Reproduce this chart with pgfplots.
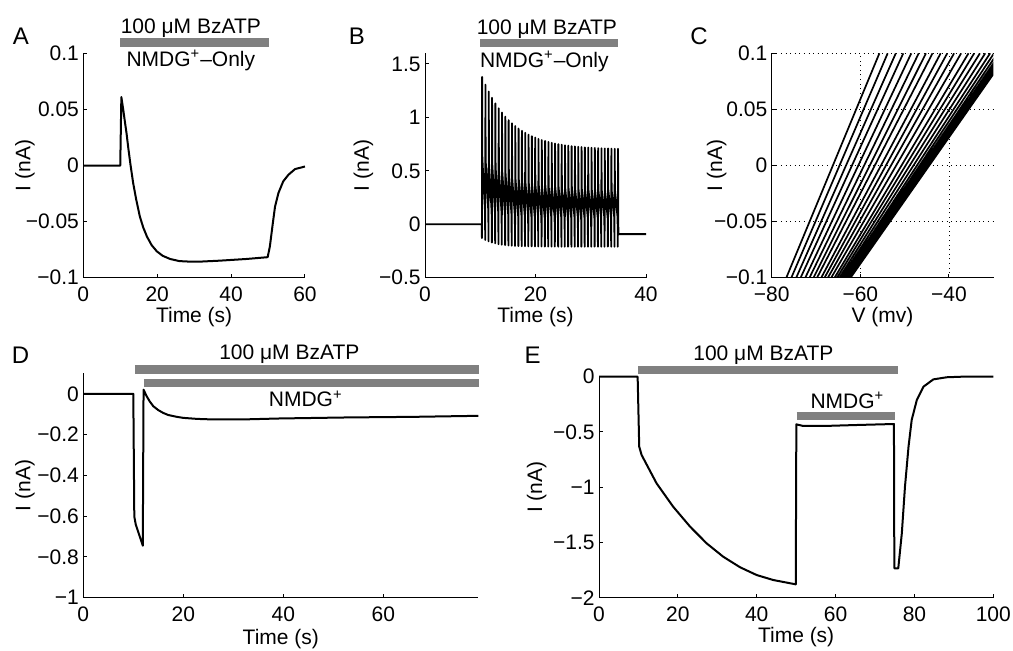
\documentclass[border=0pt]{standalone}
\usepackage{fontspec}
\setmainfont{Liberation Sans}
\usepackage{pgfplots}
\pgfplotsset{compat=1.18}
\newcommand\fs{\fontsize{10.5}{12.6}\selectfont}
\newcommand\fl{\fontsize{12}{14}\selectfont}
\definecolor{bargray}{gray}{0.5}
\pgfplotsset{
  mat/.style={
    scale only axis, anchor=north west,
    axis x line*=bottom, axis y line*=left,
    tick align=inside, major tick length=2pt,
    axis line style={line width=0.5pt},
    every tick/.style={black, line width=0.5pt},
    /pgf/number format/assume math mode=true,
    tick label style={font=\fs},
    label style={font=\fs},
    xticklabel style={anchor=base, inner sep=0pt, yshift=-12pt},
    yticklabel style={anchor=east, inner sep=0pt, xshift=-2pt},
    xlabel style={at={([yshift=-22.5pt]axis description cs:0.5,0)}, anchor=base, inner sep=0pt},
    ylabel style={anchor=center, inner sep=0pt},
    clip=false,
  },
  trace/.style={black, line width=1pt, line join=round},
}
\tikzset{bar/.style={bargray, line width=4.2pt}, txt/.style={font=\fs, anchor=base, inner sep=0pt}}
\begin{document}
\begin{tikzpicture}
\useasboundingbox (0,0) rectangle (506.5pt,-325pt);

% ---------- A
\begin{axis}[mat, at={(41.65pt,-26.65pt)}, width=110.85pt, height=112.2pt,
  xmin=0, xmax=60, ymin=-0.1, ymax=0.1,
  xtick={0,20,40,60},
  ytick={-0.1,-0.05,0,0.05,0.1}, yticklabels={−0.1,−0.05,0,0.05,0.1},
  xlabel={Time (s)}, ylabel={I (nA)},
  ylabel style={at={([xshift=-29.2pt]axis description cs:0,0.5)}}]
\addplot[trace] coordinates {
 (0,0) (10.0,0) (10.3,0.061) (10.8,0.05) (11.3,0.038) (11.7,0.0288) (12.2,0.015) (12.8,0.0)
 (13.5,-0.0157) (14.3,-0.03) (15.3,-0.0454) (16.2,-0.055) (17.2,-0.0632) (18.5,-0.071)
 (19.9,-0.0765) (21.5,-0.0805) (23.5,-0.0833) (26,-0.0852) (29,-0.0857) (32,-0.0856)
 (37,-0.0848) (44.2,-0.0833) (49.9,-0.0817) (50.5,-0.072) (51.3,-0.0513) (51.9,-0.0365)
 (52.8,-0.0246) (54.1,-0.0142) (55.5,-0.0083) (57.3,-0.0032) (60,-0.0009)};
\draw[bar] (axis cs:10,0.1096) -- (axis cs:50.3,0.1096);
\node[txt] at (axis cs:29.1,0.1178) {100 μM BzATP};
\node[txt] at (axis cs:29.1,0.0881) {NMDG\textsuperscript{+}–Only};
\end{axis}

% ---------- B
\begin{axis}[mat, at={(212.5pt,-26.65pt)}, width=110.5pt, height=112.2pt,
  xmin=0, xmax=40, ymin=-0.5, ymax=1.6,
  xtick={0,20,40},
  ytick={-0.5,0,0.5,1,1.5}, yticklabels={−0.5,0,0.5,1,1.5},
  xlabel={Time (s)}, ylabel={I (nA)},
  ylabel style={at={([xshift=-30.8pt]axis description cs:0,0.5)}}]
\addplot[black, line width=0.9pt, line join=round] coordinates {
 (0,0) (10.26,0)
 (10.3,-0.13) (10.34,1.38) (10.38,0.62) (10.86,0.12)
 (10.9,-0.147) (10.94,1.307) (10.98,0.6) (11.46,0.12)
 (11.5,-0.16) (11.54,1.242) (11.58,0.58) (12.06,0.115)
 (12.1,-0.171) (12.14,1.184) (12.18,0.56) (12.66,0.11)
 (12.7,-0.179) (12.74,1.132) (12.78,0.54) (13.26,0.105)
 (13.3,-0.186) (13.34,1.086) (13.38,0.52) (13.86,0.1)
 (13.9,-0.191) (13.94,1.045) (13.98,0.5) (14.46,0.095)
 (14.5,-0.195) (14.54,1.008) (14.58,0.48) (15.06,0.09)
 (15.1,-0.198) (15.14,0.975) (15.18,0.46) (15.66,0.085)
 (15.7,-0.201) (15.74,0.945) (15.78,0.44) (16.26,0.08)
 (16.3,-0.203) (16.34,0.919) (16.38,0.43) (16.86,0.078)
 (16.9,-0.204) (16.94,0.896) (16.98,0.42) (17.46,0.076)
 (17.5,-0.205) (17.54,0.875) (17.58,0.41) (18.06,0.074)
 (18.1,-0.206) (18.14,0.856) (18.18,0.4) (18.66,0.072)
 (18.7,-0.207) (18.74,0.839) (18.78,0.39) (19.26,0.07)
 (19.3,-0.207) (19.34,0.824) (19.38,0.385) (19.86,0.068)
 (19.9,-0.208) (19.94,0.812) (19.98,0.38) (20.46,0.066)
 (20.5,-0.208) (20.54,0.799) (20.58,0.375) (21.06,0.064)
 (21.1,-0.208) (21.14,0.788) (21.18,0.37) (21.66,0.062)
 (21.7,-0.209) (21.74,0.78) (21.78,0.365) (22.26,0.06)
 (22.3,-0.209) (22.34,0.771) (22.38,0.36) (22.86,0.06)
 (22.9,-0.209) (22.94,0.763) (22.98,0.356) (23.46,0.06)
 (23.5,-0.209) (23.54,0.756) (23.58,0.352) (24.06,0.06)
 (24.1,-0.21) (24.14,0.75) (24.18,0.349) (24.66,0.06)
 (24.7,-0.21) (24.74,0.745) (24.78,0.346) (25.26,0.06)
 (25.3,-0.21) (25.34,0.74) (25.38,0.343) (25.86,0.06)
 (25.9,-0.21) (25.94,0.736) (25.98,0.341) (26.46,0.06)
 (26.5,-0.21) (26.54,0.732) (26.58,0.339) (27.06,0.06)
 (27.1,-0.21) (27.14,0.729) (27.18,0.337) (27.66,0.06)
 (27.7,-0.21) (27.74,0.726) (27.78,0.335) (28.26,0.06)
 (28.3,-0.21) (28.34,0.723) (28.38,0.333) (28.86,0.06)
 (28.9,-0.21) (28.94,0.72) (28.98,0.332) (29.46,0.06)
 (29.5,-0.21) (29.54,0.718) (29.58,0.331) (30.06,0.06)
 (30.1,-0.21) (30.14,0.716) (30.18,0.33) (30.66,0.06)
 (30.7,-0.21) (30.74,0.714) (30.78,0.329) (31.26,0.06)
 (31.3,-0.21) (31.34,0.713) (31.38,0.328) (31.86,0.06)
 (31.9,-0.21) (31.94,0.712) (31.98,0.327) (32.46,0.06)
 (32.5,-0.21) (32.54,0.71) (32.58,0.326) (33.06,0.06)
 (33.1,-0.21) (33.14,0.71) (33.18,0.325) (33.66,0.06)
 (33.7,-0.21) (33.74,0.708) (33.78,0.325) (34.26,0.06)
 (34.3,-0.21) (34.34,0.707) (34.38,0.324) (34.86,0.06)
 (34.9,-0.21) (34.94,0.707) (35.0,-0.092) (40,-0.092)};
\draw[bar] (axis cs:9.96,1.694) -- (axis cs:35.0,1.694);
\node[txt] at (axis cs:22.05,1.78) {100 μM BzATP};
\node[txt] at (axis cs:21.6,1.468) {NMDG\textsuperscript{+}–Only};
\end{axis}

% ---------- C
\begin{axis}[mat, clip=true, at={(385.85pt,-26.65pt)}, width=110.8pt, height=112.2pt,
  xmin=-80, xmax=-30, ymin=-0.1, ymax=0.1,
  xtick={-80,-60,-40}, xticklabels={−80,−60,−40},
  ytick={-0.1,-0.05,0,0.05,0.1}, yticklabels={−0.1,−0.05,0,0.05,0.1},
  grid=major, major grid style={black, line width=0.4pt, dash pattern=on 0.5pt off 1.8pt},
  xlabel={V (mv)}, ylabel={I (nA)},
  ylabel style={at={([xshift=-27.5pt]axis description cs:0,0.5)}}]
\addplot[black, line width=0.85pt, unbounded coords=jump] coordinates {
 (-76.7,-0.1) (-55.7,0.1) (-50,nan)
 (-75.57,-0.1) (-53.83,0.1) (-50,nan)
 (-74.47,-0.1) (-52.0,0.1) (-50,nan)
 (-73.47,-0.1) (-50.31,0.1) (-50,nan)
 (-72.42,-0.1) (-48.51,0.1) (-50,nan)
 (-71.47,-0.1) (-46.83,0.1) (-50,nan)
 (-70.57,-0.1) (-45.2,0.1) (-50,nan)
 (-69.77,-0.1) (-43.71,0.1) (-50,nan)
 (-68.82,-0.1) (-41.88,0.1) (-50,nan)
 (-68.07,-0.1) (-40.39,0.1) (-50,nan)
 (-67.32,-0.1) (-38.85,0.1) (-50,nan)
 (-66.57,-0.1) (-37.26,0.1) (-50,nan)
 (-65.82,-0.1) (-35.6,0.1) (-50,nan)
 (-65.25,-0.1) (-34.31,0.1) (-50,nan)
 (-64.7,-0.1) (-33.02,0.1) (-50,nan)
 (-64.2,-0.1) (-31.82,0.1) (-50,nan)
 (-63.75,-0.1) (-30.72,0.1) (-50,nan)
 (-63.4,-0.1) (-29.84,0.1) (-50,nan)
 (-63.1,-0.1) (-29.07,0.1) (-50,nan)
 (-62.85,-0.1) (-28.43,0.1) (-50,nan)
 (-62.65,-0.1) (-27.9,0.1) (-50,nan)
 (-62.5,-0.1) (-27.5,0.1) (-50,nan)
 (-62.38,-0.1) (-27.18,0.1) (-50,nan)
 (-62.3,-0.1) (-26.97,0.1) (-50,nan)
 (-62.24,-0.1) (-26.81,0.1) (-50,nan)
 (-62.2,-0.1) (-26.7,0.1)};
\end{axis}

% ---------- D
\begin{axis}[mat, at={(41.65pt,-186.7pt)}, width=197.5pt, height=112.15pt,
  xmin=0, xmax=79, ymin=-1, ymax=0.1,
  xtick={0,20,40,60},
  ytick={-1,-0.8,-0.6,-0.4,-0.2,0}, yticklabels={−1,−0.8,−0.6,−0.4,−0.2,0},
  xlabel={Time (s)}, ylabel={I (nA)},
  xlabel style={at={([yshift=-23.5pt]axis description cs:0.5,0)}},
  ylabel style={at={([xshift=-29.2pt]axis description cs:0,0.5)}}]
\addplot[trace] coordinates {
 (0,0) (10,0) (10.2,-0.602) (10.5,-0.642) (11.9,-0.745) (12.05,0.02) (12.7,-0.013)
 (13.3,-0.038) (14,-0.061) (15,-0.08) (16,-0.094) (17,-0.104) (18.7,-0.113) (20,-0.118)
 (22.7,-0.123) (25,-0.125) (28,-0.126) (33,-0.125) (39.3,-0.121) (52.7,-0.116)
 (66,-0.113) (79,-0.108)};
\draw[bar] (axis cs:10.3,0.1186) -- (axis cs:79.2,0.1186);
\draw[bar] (axis cs:12.1,0.0542) -- (axis cs:79.2,0.0542);
\node[txt] at (axis cs:41.2,0.168) {100 μM BzATP};
\node[txt] at (axis cs:44.5,-0.0645) {NMDG\textsuperscript{+}};
\end{axis}

% ---------- E
\begin{axis}[mat, at={(299.5pt,-188.35pt)}, width=197.15pt, height=110.5pt,
  xmin=0, xmax=100, ymin=-2, ymax=0,
  xtick={0,20,40,60,80,100},
  ytick={-2,-1.5,-1,-0.5,0}, yticklabels={−2,−1.5,−1,−0.5,0},
  xlabel={Time (s)}, ylabel={I (nA)},
  ylabel style={at={([xshift=-31.2pt]axis description cs:0,0.5)}}]
\addplot[trace] coordinates {
 (0,0) (9.8,0) (10.2,-0.633) (10.8,-0.708) (14.6,-0.965) (18.8,-1.176) (23.1,-1.357)
 (27.3,-1.508) (31.5,-1.629) (35.8,-1.725) (40,-1.795) (44.2,-1.84) (49.9,-1.879)
 (50.05,-0.431) (51.8,-0.446) (56.9,-0.446) (65.4,-0.437) (74.8,-0.428) (74.9,-1.734)
 (75.9,-1.734) (76.8,-1.417) (77.6,-0.995) (78.5,-0.633) (79.3,-0.392) (80.6,-0.211)
 (82.3,-0.09) (84.8,-0.024) (88.2,-0.005) (92,0) (100,0)};
\draw[bar] (axis cs:9.97,0.0624) -- (axis cs:75.75,0.0624);
\draw[bar] (axis cs:50.1,-0.354) -- (axis cs:75.1,-0.354);
\node[txt] at (axis cs:41.7,0.151) {100 μM BzATP};
\node[txt] at (axis cs:63,-0.286) {NMDG\textsuperscript{+}};
\end{axis}

% panel letters
\node[font=\fl, inner sep=0pt] at (10.5pt,-18pt) {A};
\node[font=\fl, inner sep=0pt] at (178.5pt,-18pt) {B};
\node[font=\fl, inner sep=0pt] at (349.5pt,-18pt) {C};
\node[font=\fl, inner sep=0pt] at (10.25pt,-177.5pt) {D};
\node[font=\fl, inner sep=0pt] at (266.25pt,-177.5pt) {E};
\end{tikzpicture}
\end{document}
